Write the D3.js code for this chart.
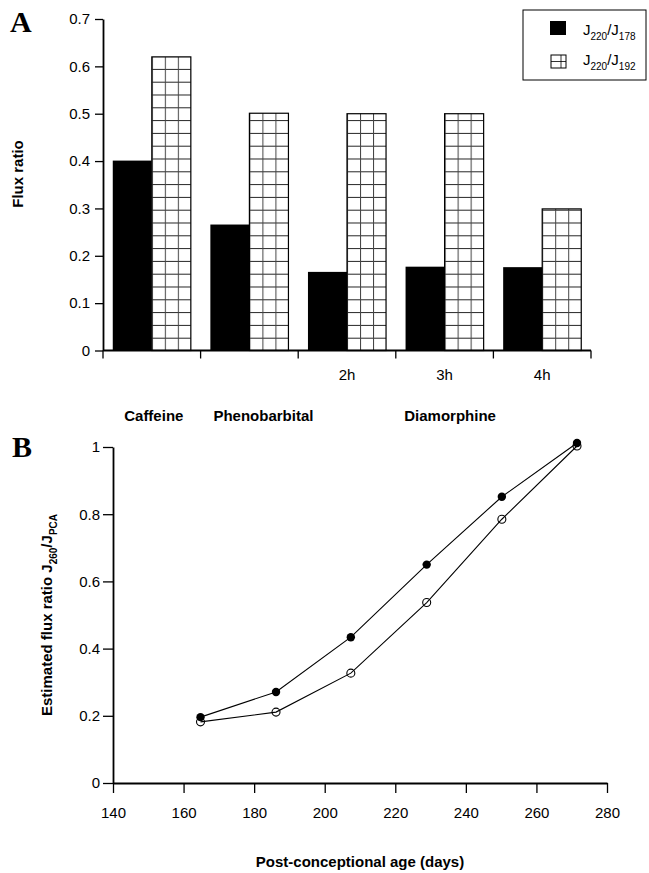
<!DOCTYPE html>
<html><head><meta charset="utf-8">
<script src="https://cdn.jsdelivr.net/npm/d3@7"></script>
<style>
body{margin:0;background:#fff}
svg{display:block}
text{font-family:"Liberation Sans",Arial,Helvetica,sans-serif;fill:#000}
</style>
</head><body>
<svg id="c" width="649" height="873"></svg>
<script>
// ---------- Panel A data ----------
const categories = ["Caffeine","Phenobarbital","2h","3h","4h"];
const categoryTickLabels = ["","","2h","3h","4h"];
const groupLabels = ["Caffeine","Phenobarbital","Diamorphine"];
const groupAnchors = ["Caffeine","Phenobarbital","3h"];
const seriesKeys = ["j178","j192"];
const ratioJ178 = [0.401,0.266,0.166,0.177,0.176];
const ratioJ192 = [0.620,0.501,0.500,0.500,0.299];
const yTicksA = [0,0.1,0.2,0.3,0.4,0.5,0.6,0.7];

// ---------- Panel B data ----------
const ages = [164.8,186.2,207.4,228.9,250.2,271.5];
const fluxFilled = [0.196,0.271,0.434,0.650,0.852,1.012];
const fluxOpen = [0.182,0.211,0.327,0.537,0.785,1.003];
const xTicksB = [140,160,180,200,220,240,260,280];
const yTicksB = [0,0.2,0.4,0.6,0.8,1];

const svg = d3.select("#c");
const defs = svg.append("defs");

// ================= PANEL A =================
const xA = d3.scaleBand().domain(categories).range([103,591]).paddingInner(0.2).paddingOuter(0.1);
const xSub = d3.scaleBand().domain(seriesKeys).range([0, xA.bandwidth()]);
const yA = d3.scaleLinear().domain([0,0.7]).range([350.5,19]);

const rowsA = categories.map((c,i)=>({cat:c, j178:ratioJ178[i], j192:ratioJ192[i]}));

// black bars
svg.append("g").selectAll("rect").data(rowsA).join("rect")
  .attr("x", d=>xA(d.cat)+xSub("j178"))
  .attr("y", d=>yA(d.j178))
  .attr("width", xSub.bandwidth())
  .attr("height", d=>yA(0)-yA(d.j178))
  .attr("fill","#000");

// hatched (grid) bars
const cellH = 12.8;
rowsA.forEach((d,i)=>{
  const bx = xA(d.cat)+xSub("j192");
  const bw = xSub.bandwidth();
  const p = defs.append("pattern").attr("id","hatch"+i)
    .attr("patternUnits","userSpaceOnUse")
    .attr("x",bx).attr("y",yA(0))
    .attr("width",bw/3).attr("height",cellH);
  p.append("rect").attr("width",bw/3).attr("height",cellH).attr("fill","#fff");
  p.append("line").attr("x1",0).attr("x2",bw/3).attr("y1",0.5).attr("y2",0.5).attr("stroke","#222").attr("stroke-width",1);
  p.append("line").attr("x1",0.5).attr("x2",0.5).attr("y1",0).attr("y2",cellH).attr("stroke","#444").attr("stroke-width",1);
});
svg.append("g").selectAll("rect").data(rowsA).join("rect")
  .attr("x", d=>xA(d.cat)+xSub("j192"))
  .attr("y", d=>yA(d.j192))
  .attr("width", xSub.bandwidth())
  .attr("height", d=>yA(0)-yA(d.j192))
  .attr("fill",(d,i)=>`url(#hatch${i})`)
  .attr("stroke","#000").attr("stroke-width",1.2);

// y axis A
const gyA = svg.append("g").attr("transform","translate(103,0)")
  .call(d3.axisLeft(yA).tickValues(yTicksA).tickSize(8).tickPadding(5).tickSizeOuter(0)
    .tickFormat(d=>d===0?"0":d3.format(".1f")(d)));
gyA.select(".domain").attr("stroke","#000").attr("stroke-width",1.8);
gyA.selectAll(".tick line").attr("stroke","#000").attr("stroke-width",1.3);
gyA.selectAll(".tick text").attr("font-size",15).attr("font-family","Liberation Sans, Arial, sans-serif");

// x axis A (category boundaries)
const step = xA.step();
const boundaries = categories.map(c=>xA(c)-step*xA.paddingInner()/2);
boundaries.push(xA.range()[1]);
const gxA = svg.append("g");
gxA.append("line").attr("x1",xA.range()[0]).attr("x2",xA.range()[1])
  .attr("y1",yA(0)).attr("y2",yA(0)).attr("stroke","#000").attr("stroke-width",1.8);
gxA.selectAll("line.tk").data(boundaries).join("line").attr("class","tk")
  .attr("x1",d=>d).attr("x2",d=>d).attr("y1",yA(0)).attr("y2",yA(0)+8)
  .attr("stroke","#000").attr("stroke-width",1.3);
gxA.selectAll("text.cl").data(categories).join("text").attr("class","cl")
  .attr("x",c=>xA(c)+xA.bandwidth()/2).attr("y",380)
  .attr("text-anchor","middle").attr("font-size",15)
  .text((c,i)=>categoryTickLabels[i]);
const groupDx = [2,14,5.5];
gxA.selectAll("text.gl").data(groupLabels).join("text").attr("class","gl")
  .attr("x",(g,i)=>xA(groupAnchors[i])+xA.bandwidth()/2+groupDx[i]).attr("y",421)
  .attr("text-anchor","middle").attr("font-size",15).attr("font-weight","bold")
  .text(g=>g);

// y label A
svg.append("text").attr("transform","translate(23,174) rotate(-90)")
  .attr("text-anchor","middle").attr("font-size",15).attr("font-weight","bold")
  .text("Flux ratio");

// Panel letter A
svg.append("text").attr("x",10).attr("y",32)
  .style("font-family","'Liberation Serif','Times New Roman',serif")
  .attr("font-size",30).attr("font-weight","bold").text("A");

// legend
const lg = svg.append("g");
lg.append("rect").attr("x",523).attr("y",10).attr("width",123).attr("height",70)
  .attr("fill","#fff").attr("stroke","#000").attr("stroke-width",1);
lg.append("rect").attr("x",550).attr("y",21).attr("width",16).attr("height",14).attr("fill","#000");
lg.append("rect").attr("x",551).attr("y",55).attr("width",15).attr("height",13)
  .attr("fill","#fff").attr("stroke","#000").attr("stroke-width",1);
lg.append("line").attr("x1",551).attr("x2",566).attr("y1",61.5).attr("y2",61.5).attr("stroke","#000").attr("stroke-width",0.8);
lg.append("line").attr("x1",561).attr("x2",561).attr("y1",55).attr("y2",68).attr("stroke","#000").attr("stroke-width",0.8);
const legendSubs = [["220","178"],["220","192"]];
legendSubs.forEach((s,i)=>{
  const t = lg.append("text").attr("x",583).attr("y",35+i*30).attr("font-size",15);
  t.append("tspan").text("J");
  t.append("tspan").attr("font-size",10).attr("dy",5).text(s[0]);
  t.append("tspan").attr("dy",-5).text("/J");
  t.append("tspan").attr("font-size",10).attr("dy",5).text(s[1]);
});

// ================= PANEL B =================
const xB = d3.scaleLinear().domain([140,280]).range([113,607]);
const yB = d3.scaleLinear().domain([0,1]).range([783,447]);

const gyB = svg.append("g").attr("transform",`translate(${xB(140)},0)`)
  .call(d3.axisLeft(yB).tickValues(yTicksB).tickSize(10).tickPadding(3).tickSizeOuter(0)
    .tickFormat(d=>(d===0||d===1)?String(d):d3.format(".1f")(d)));
gyB.select(".domain").attr("stroke","#000").attr("stroke-width",1.8);
gyB.selectAll(".tick line").attr("stroke","#000").attr("stroke-width",1.3);
gyB.selectAll(".tick text").attr("font-size",15).attr("font-family","Liberation Sans, Arial, sans-serif");

const gxB = svg.append("g").attr("transform",`translate(0,${yB(0)})`)
  .call(d3.axisBottom(xB).tickValues(xTicksB).tickSize(10).tickPadding(14).tickSizeOuter(0));
gxB.select(".domain").attr("stroke","#000").attr("stroke-width",2);
gxB.selectAll(".tick line").attr("stroke","#000").attr("stroke-width",1.3);
gxB.selectAll(".tick text").attr("font-size",15).attr("font-family","Liberation Sans, Arial, sans-serif");

const line = d3.line().x(d=>xB(d[0])).y(d=>yB(d[1]));
const filledPts = ages.map((a,i)=>[a,fluxFilled[i]]);
const openPts = ages.map((a,i)=>[a,fluxOpen[i]]);
svg.append("path").datum(openPts).attr("d",line).attr("fill","none").attr("stroke","#000").attr("stroke-width",1.1);
svg.append("path").datum(filledPts).attr("d",line).attr("fill","none").attr("stroke","#000").attr("stroke-width",1.1);
svg.append("g").selectAll("circle").data(openPts).join("circle")
  .attr("cx",d=>xB(d[0])).attr("cy",d=>yB(d[1])).attr("r",4)
  .attr("fill","none").attr("stroke","#000").attr("stroke-width",1.1);
svg.append("g").selectAll("circle").data(filledPts).join("circle")
  .attr("cx",d=>xB(d[0])).attr("cy",d=>yB(d[1])).attr("r",4.2)
  .attr("fill","#000");

// y label B
const yl = svg.append("text").attr("transform",`translate(52,${(yB(0)+yB(1))/2}) rotate(-90)`)
  .attr("text-anchor","middle").attr("font-size",15).attr("font-weight","bold");
yl.append("tspan").text("Estimated flux ratio J");
yl.append("tspan").attr("font-size",10).attr("dy",5).text("260");
yl.append("tspan").attr("dy",-5).text("/J");
yl.append("tspan").attr("font-size",10).attr("dy",5).text("PCA");

// x label B
svg.append("text").attr("x",(xB(140)+xB(280))/2).attr("y",867)
  .attr("text-anchor","middle").attr("font-size",15).attr("font-weight","bold")
  .text("Post-conceptional age (days)");

// Panel letter B
svg.append("text").attr("x",12).attr("y",457)
  .style("font-family","'Liberation Serif','Times New Roman',serif")
  .attr("font-size",30).attr("font-weight","bold").text("B");
</script>
</body></html>
